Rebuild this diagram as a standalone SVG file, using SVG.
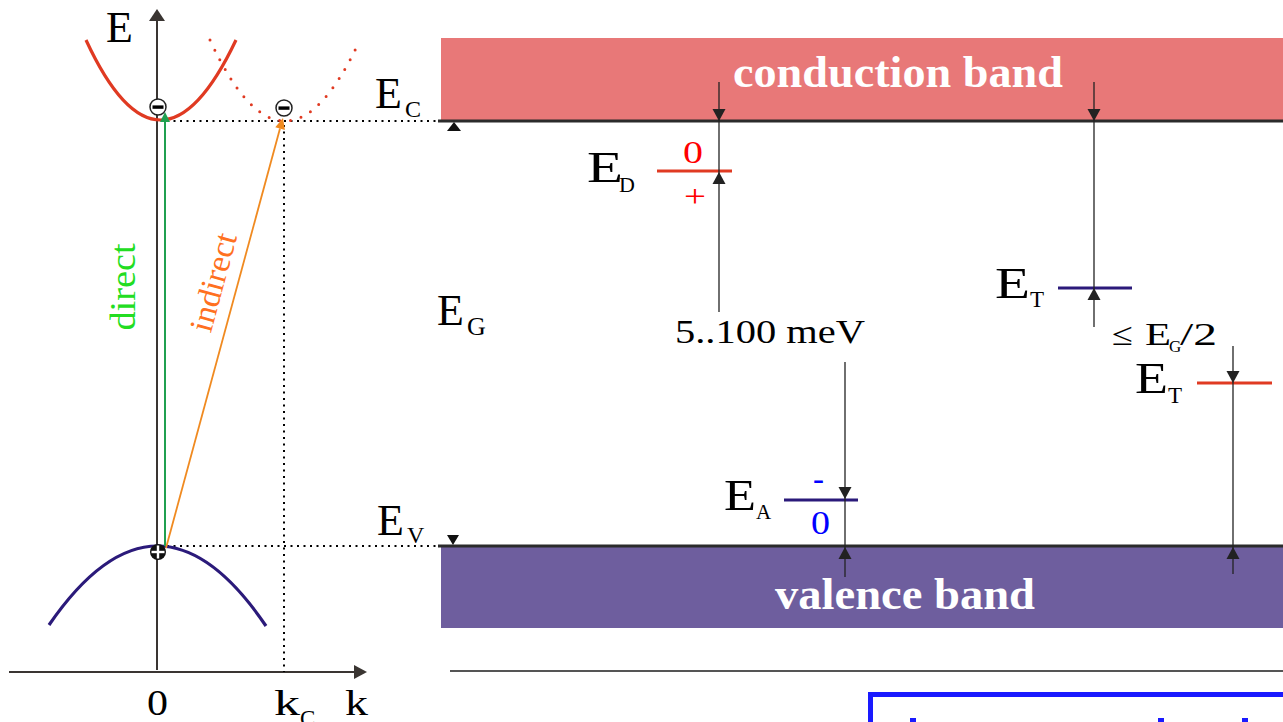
<svg xmlns="http://www.w3.org/2000/svg" width="1283" height="722" viewBox="0 0 1283 722">
<style>
text{font-family:"Liberation Serif","Times New Roman",serif;fill:#000;}
.lbl{font-size:44px;}
.sub{font-size:24px;}
.band{font-size:44px;font-weight:bold;fill:#fff;}
.ax{stroke:#3a3532;stroke-width:2;fill:none;}
.dot{stroke:#000;stroke-width:2;stroke-dasharray:2 4.5;fill:none;}
.meas{stroke:#222;stroke-width:1.3;fill:none;}
.ah{fill:#222;}
.edge{stroke:#2b2b2b;stroke-width:3;}
</style>
<defs>
<path id="down" d="M-6.5,-12 L6.5,-12 L0,0 Z"/>
<path id="up" d="M-6.5,12 L6.5,12 L0,0 Z"/>
</defs>
<rect width="1283" height="722" fill="#fff"/>

<!-- Left panel: band structure E(k) -->
<g id="ek-axes">
<line class="ax" x1="157" y1="670" x2="157" y2="20"/>
<polygon points="157,9 149,21 165,21" fill="#3a3532"/>
<line class="ax" x1="9" y1="672" x2="355" y2="672"/>
<polygon points="367,672 354,665 354,679" fill="#3a3532"/>
<text class="lbl" x="106" y="42" font-size="42">E</text>
<text x="147" y="715" font-size="36" textLength="21" lengthAdjust="spacingAndGlyphs">0</text>
<text x="274" y="715" font-size="36" textLength="26" lengthAdjust="spacingAndGlyphs">k</text>
<text x="300" y="726" font-size="23">C</text>
<text x="345" y="715" font-size="36" textLength="23" lengthAdjust="spacingAndGlyphs">k</text>
</g>
<g id="ek-guides">
<line class="dot" x1="167" y1="121" x2="440" y2="121"/>
<line class="dot" x1="167" y1="546" x2="440" y2="546"/>
<line class="dot" x1="284" y1="125" x2="284" y2="672"/>
</g>
<g id="conduction-curve">
<path d="M86,40 Q160,200 236,40" fill="none" stroke="#E03A22" stroke-width="3.2"/>
<path d="M210,40 Q284,200 358,44" fill="none" stroke="#E03A22" stroke-width="3" stroke-linecap="round" stroke-dasharray="0 11"/>
</g>
<g id="valence-curve">
<path d="M49,625 Q158,466.5 266,626" fill="none" stroke="#2B1A7A" stroke-width="3.2"/>
</g>
<g id="transitions">
<line x1="165" y1="546" x2="165" y2="121" stroke="#20A050" stroke-width="2"/>
<polygon points="165,112 160,122 170,122" fill="#20A050"/>
<line x1="166" y1="548" x2="280" y2="128.6" stroke="#F08A20" stroke-width="1.8"/>
<polygon points="283,118 284.9,129.9 275.3,127.3" fill="#F08A20"/>
<text x="135" y="287" font-size="36" style="fill:#22DD22" text-anchor="middle" textLength="87" lengthAdjust="spacingAndGlyphs" transform="rotate(-90 135 287)">direct</text>
<text x="224" y="285" font-size="33" style="fill:#FF7020" text-anchor="middle" transform="rotate(-74.8 224 285)">indirect</text>
</g>
<g id="carriers">
<circle cx="158" cy="107" r="8" fill="#fff" stroke="#222" stroke-width="1.5"/>
<rect x="152.5" y="105.4" width="11" height="3.4" fill="#000"/>
<circle cx="284" cy="108" r="8" fill="#fff" stroke="#222" stroke-width="1.5"/>
<rect x="278.5" y="106.4" width="11" height="3.4" fill="#000"/>
<circle cx="158" cy="552" r="8" fill="#111"/>
<rect x="151.5" y="550.8" width="13" height="2.4" fill="#fff"/>
<rect x="156.8" y="545.5" width="2.4" height="13" fill="#fff"/>
</g>

<!-- Right panel: band diagram -->
<g id="conduction-band">
<rect x="441" y="38" width="842" height="83" fill="#E87878"/>
<line class="edge" x1="438" y1="121" x2="1283" y2="121"/>
<text class="band" x="733" y="87" textLength="330" lengthAdjust="spacingAndGlyphs">conduction band</text>
<polygon points="454,122 447,131 461,131" fill="#111"/>
<text class="lbl" x="375" y="108">E</text>
<text class="sub" x="405" y="117">C</text>
</g>
<g id="valence-band">
<rect x="441" y="546" width="842" height="82" fill="#6E5E9E"/>
<line class="edge" x1="438" y1="546" x2="1283" y2="546"/>
<text class="band" x="775" y="609" textLength="260" lengthAdjust="spacingAndGlyphs">valence band</text>
<polygon points="453,545 447,535 459,535" fill="#111"/>
<text class="lbl" x="377" y="535">E</text>
<text class="sub" x="407" y="543">V</text>
</g>
<g id="gap-label">
<text class="lbl" x="437" y="325">E</text>
<text x="467" y="335" font-size="26">G</text>
</g>
<g id="donor-level">
<line x1="657" y1="171" x2="732" y2="171" stroke="#E03A22" stroke-width="3"/>
<text class="lbl" x="587" y="182" textLength="36" lengthAdjust="spacingAndGlyphs">E</text>
<text x="619" y="192" font-size="22">D</text>
<text x="683" y="163" font-size="31" style="fill:#FF0000" textLength="20" lengthAdjust="spacingAndGlyphs">0</text>
<text x="684" y="207" font-size="31" style="fill:#FF0000" textLength="22" lengthAdjust="spacingAndGlyphs">+</text>
</g>
<g id="acceptor-level">
<line x1="784" y1="500" x2="858" y2="500" stroke="#2B1A7A" stroke-width="3"/>
<text class="lbl" x="724" y="510" textLength="32" lengthAdjust="spacingAndGlyphs">E</text>
<text x="756" y="519" font-size="21">A</text>
<text x="813" y="490" font-size="33" style="fill:#0000FF" textLength="11" lengthAdjust="spacingAndGlyphs">-</text>
<text x="811" y="534" font-size="33" style="fill:#0000FF" textLength="19" lengthAdjust="spacingAndGlyphs">0</text>
</g>
<g id="trap-level-upper">
<line x1="1058" y1="288" x2="1132" y2="288" stroke="#2B1A7A" stroke-width="3"/>
<text class="lbl" x="995" y="298" textLength="35" lengthAdjust="spacingAndGlyphs">E</text>
<text x="1030" y="307" font-size="23">T</text>
</g>
<g id="trap-level-lower">
<line x1="1197" y1="383" x2="1272" y2="383" stroke="#E03A22" stroke-width="3"/>
<text class="lbl" x="1135" y="393" textLength="33" lengthAdjust="spacingAndGlyphs">E</text>
<text x="1168" y="403" font-size="23">T</text>
</g>
<g id="labels">
<text x="675" y="343" font-size="34" textLength="190" lengthAdjust="spacingAndGlyphs">5..100 meV</text>
<text x="1112" y="345" font-size="32" textLength="21" lengthAdjust="spacingAndGlyphs">≤</text>
<text x="1145" y="345" font-size="32" textLength="26" lengthAdjust="spacingAndGlyphs">E</text>
<text x="1169" y="352" font-size="17">G</text>
<text x="1180" y="345" font-size="32" textLength="37" lengthAdjust="spacingAndGlyphs">/2</text>
</g>

<g id="connectors">
<line class="meas" x1="719" y1="82" x2="719" y2="312"/>
<use href="#down" x="719" y="121" class="ah"/>
<use href="#up" x="719" y="172" class="ah"/>
<line class="meas" x1="845" y1="362" x2="845" y2="577"/>
<use href="#down" x="845" y="499" class="ah"/>
<use href="#up" x="845" y="547" class="ah"/>
<line class="meas" x1="1094" y1="82" x2="1094" y2="327"/>
<use href="#down" x="1094" y="121" class="ah"/>
<use href="#up" x="1094" y="288" class="ah"/>
<line class="meas" x1="1233" y1="346" x2="1233" y2="574"/>
<use href="#down" x="1233" y="383" class="ah"/>
<use href="#up" x="1233" y="547" class="ah"/>
</g>

<g id="baseline">
<line x1="450" y1="671" x2="1283" y2="671" stroke="#555" stroke-width="2"/>
</g>
<g id="blue-box">
<rect x="870.5" y="694.5" width="430" height="60" fill="none" stroke="#1a1aff" stroke-width="5"/>
<rect x="910" y="718" width="6" height="4" fill="#1a1aff"/>
<rect x="1158" y="718" width="6" height="4" fill="#1a1aff"/>
<rect x="1242" y="718" width="6" height="4" fill="#1a1aff"/>
</g>
</svg>
